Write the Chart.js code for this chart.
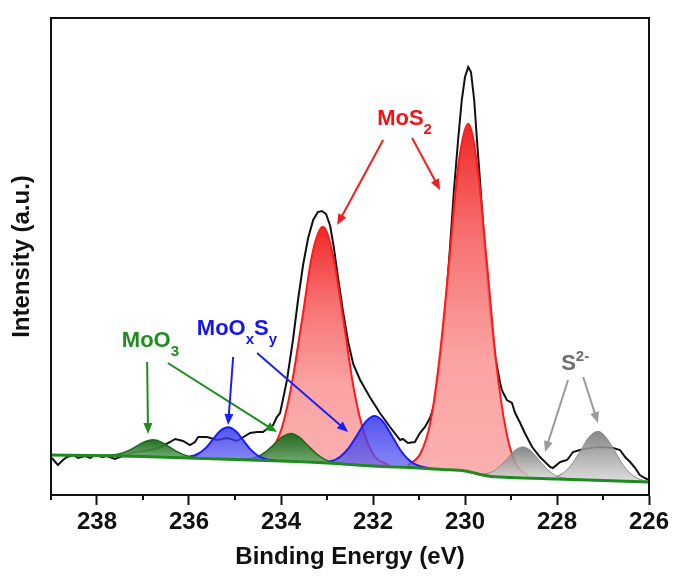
<!DOCTYPE html>
<html>
<head>
<meta charset="utf-8">
<script src="https://cdn.jsdelivr.net/npm/chart.js@4.4.1/dist/chart.umd.min.js"></script>
<style>
    html, body { margin: 0; padding: 0; background: #fff; }
    #wrap { width: 673px; height: 576px; }
</style>
</head>
<body>
<div id="wrap"><canvas id="xpsChart" width="673" height="576"></canvas></div>
<script>
// binding energy in eV, intensity in arbitrary units
const energyTicks = [238, 236, 234, 232, 230, 228, 226];

const rawEnergy = [238.98, 238.85, 238.74, 238.65, 238.52, 238.41, 238.26, 238.15, 238.04, 237.89,
    237.78, 237.61, 237.39, 237.17, 236.96, 236.74, 236.57, 236.41, 236.30, 236.13,
    235.98, 235.87, 235.80, 235.61, 235.39, 235.17, 234.96, 234.78, 234.67, 234.52,
    234.39, 234.28, 234.17, 234.09, 234.02, 233.96, 233.87, 233.74, 233.63, 233.52,
    233.41, 233.30, 233.20, 233.11, 233.02, 232.93, 232.85, 232.76, 232.65, 232.54,
    232.43, 232.28, 232.07, 231.85, 231.63, 231.41, 231.35, 231.24, 231.09, 230.98,
    230.87, 230.76, 230.67, 230.59, 230.50, 230.41, 230.33, 230.24, 230.15, 230.07,
    230.00, 229.93, 229.87, 229.80, 229.74, 229.67, 229.57, 229.46, 229.35, 229.24,
    229.20, 229.09, 228.98, 228.91, 228.80, 228.70, 228.54, 228.37, 228.15, 228.09,
    227.93, 227.78, 227.65, 227.50, 227.28, 227.07, 226.78, 226.63, 226.52, 226.41,
    226.30, 226.20, 226.09, 226.00];
const rawCounts = [37, 30, 35, 38, 40, 37, 39, 37, 40, 38,
    39, 36, 40, 43, 44, 46, 49, 53, 56, 54,
    50, 53, 58, 58, 55, 57, 54, 59, 62, 63,
    63, 67, 70, 78, 82, 95, 115, 155, 195, 230,
    257, 275, 283, 284, 281, 269, 247, 217, 183, 153,
    131, 115, 98, 82, 68, 55, 56, 52, 53, 62,
    68, 77, 90, 115, 150, 195, 245, 305, 355, 395,
    418, 428, 423, 395, 355, 312, 245, 185, 140, 113,
    105, 95, 92, 82, 72, 62, 48, 38, 28, 27,
    33, 35, 43, 45, 47, 48, 47, 45, 38, 33,
    27, 20, 17, 15];

const bgEnergy = [239, 238, 237, 236, 235, 234, 233, 232, 231, 230.5, 230, 229.5, 229, 228, 227, 226];
const bgCounts = [40, 39.5, 38.5, 37, 35.5, 34, 32, 29, 27, 25.5, 24, 19, 17.5, 16, 14.5, 13];

const moo3aEnergy = [237.93, 237.68, 237.50, 237.32, 237.14, 236.96, 236.78, 236.60, 236.42, 236.24, 236.06, 235.88, 235.63];
const moo3aCounts = [39.5, 39.9, 41.3, 44.3, 48.9, 53.4, 55.2, 52.9, 47.9, 42.9, 39.4, 37.5, 36.6];

const moxsaEnergy = [236.21, 235.98, 235.81, 235.64, 235.48, 235.32, 235.15, 234.98, 234.82, 234.66, 234.49, 234.32, 234.09];
const moxsaCounts = [37.5, 38.4, 41.0, 46.9, 55.6, 64.2, 67.7, 63.7, 54.6, 45.4, 39.0, 35.9, 34.3];

const moo3bEnergy = [234.93, 234.68, 234.50, 234.32, 234.14, 233.96, 233.78, 233.60, 233.42, 233.24, 233.06, 232.88, 232.63];
const moo3bCounts = [35.6, 36.2, 38.6, 43.6, 51.2, 58.6, 61.6, 57.9, 49.8, 41.6, 35.9, 32.8, 31.1];

const mos2aEnergy = [234.53, 234.22, 233.99, 233.77, 233.54, 233.32, 233.09, 232.87, 232.64, 232.42, 232.19, 231.97, 231.65];
const mos2aCounts = [36.2, 44.7, 66.0, 110.1, 176.2, 240.9, 268.2, 239.9, 174.0, 106.9, 61.6, 39.3, 29.7];

const moxsbEnergy = [233.18, 232.91, 232.72, 232.53, 232.34, 232.15, 231.96, 231.77, 231.58, 231.39, 231.20, 231.01, 230.74];
const moxsbCounts = [32.7, 33.9, 38.0, 46.8, 60.3, 73.6, 78.9, 72.6, 58.5, 44.0, 34.2, 29.2, 26.5];

const mos2bEnergy = [231.24, 230.96, 230.75, 230.55, 230.34, 230.14, 229.93, 229.73, 229.52, 229.32, 229.11, 228.91, 228.62];
const mos2bCounts = [29.6, 42.2, 73.4, 138.7, 236.1, 331.5, 371.3, 328.4, 230.3, 131.5, 64.9, 32.7, 19.0];

const s2aEnergy = [229.59, 229.42, 229.25, 229.08, 228.91, 228.74, 228.57, 228.40, 228.23, 228.06, 227.89, 227.65];
const s2aCounts = [20.6, 23.0, 28.4, 36.5, 44.8, 48.1, 44.3, 35.4, 26.5, 20.3, 17.2, 15.7];

const s2bEnergy = [228.29, 228.04, 227.85, 227.67, 227.48, 227.30, 227.11, 226.93, 226.74, 226.56, 226.37, 226.19, 226.00];
const s2bCounts = [16.7, 18.3, 22.4, 31.4, 44.9, 58.2, 63.7, 57.6, 43.8, 29.7, 20.2, 15.5, 13.4];

// labels and arrows, placed in data units
const noteLabels = [
    { parts: [['MoS', 0], ['2', 1]], at: [231.91, 370], color: '#f01414' },
    { parts: [['MoO', 0], ['3', 1]], at: [237.46, 148], color: '#1e8c1e' },
    { parts: [['MoO', 0], ['x', 1], ['S', 0], ['y', 1]], at: [235.83, 160], color: '#1414f0' },
    { parts: [['S', 0], ['2-', -1]], at: [227.91, 125], color: '#6e6e6e' }
];
const noteArrows = [
    { from: [231.78, 355], to: [232.78, 270], color: '#f01e1e' },
    { from: [231.15, 357], to: [230.54, 305], color: '#f01e1e' },
    { from: [236.91, 133], to: [236.89, 61], color: '#1e8c1e' },
    { from: [236.46, 132], to: [234.09, 63], color: '#1e8c1e' },
    { from: [235.04, 138], to: [235.15, 70], color: '#1e1ef0' },
    { from: [234.52, 142], to: [232.54, 63], color: '#1e1ef0' },
    { from: [227.76, 115], to: [228.26, 43], color: '#9a9a9a' },
    { from: [227.43, 118], to: [227.11, 72], color: '#9a9a9a' }
];

const FONT = '"Liberation Sans", Arial, sans-serif';

function toPoints(xs, ys){
    let pts = [];
    for(let i = 0; i < xs.length; i++){
        pts.push({x: xs[i], y: ys[i]});
    }
    return pts;
}

// vertical gradient from the top of a peak down to its foot
function shade(stops){
    return function(context){
        const chart = context.chart;
        if(!chart.chartArea || !context.dataset) return stops[0];
        const ys = context.dataset.data.map(p => p.y);
        const yScale = chart.scales.y;
        const g = chart.ctx.createLinearGradient(0, yScale.getPixelForValue(Math.max(...ys)), 0, yScale.getPixelForValue(Math.min(...ys)));
        for(let i = 0; i < stops.length; i++){
            g.addColorStop(i / (stops.length - 1), stops[i]);
        }
        return g;
    };
}

function peakDataset(label, xs, ys, stops, lineColor, lineWidth, order){
    return {
        label: label,
        data: toPoints(xs, ys),
        borderColor: lineColor,
        borderWidth: lineWidth,
        backgroundColor: shade(stops),
        fill: 1,
        pointRadius: 0,
        cubicInterpolationMode: 'monotone',
        order: order
    };
}

const redStops = ['rgba(238,28,28,0.95)', 'rgba(247,100,100,0.9)', 'rgba(250,150,150,0.88)', 'rgba(251,165,165,0.88)'];
const blueStops = ['rgba(45,45,235,0.82)', 'rgba(95,95,242,0.75)'];
const greenStops = ['rgba(22,100,22,0.95)', 'rgba(105,170,105,0.9)'];
const grayStops = ['rgba(118,118,118,0.88)', 'rgba(215,215,215,0.85)'];

function drawArrow(ctx, x1, y1, x2, y2, color){
    const ang = Math.atan2(y2 - y1, x2 - x1);
    const head = 11;
    ctx.strokeStyle = color;
    ctx.fillStyle = color;
    ctx.lineWidth = 2;
    ctx.beginPath();
    ctx.moveTo(x1, y1);
    ctx.lineTo(x2 - Math.cos(ang) * head * 0.8, y2 - Math.sin(ang) * head * 0.8);
    ctx.stroke();
    ctx.beginPath();
    ctx.moveTo(x2, y2);
    ctx.lineTo(x2 - head * Math.cos(ang) + 4.5 * Math.sin(ang), y2 - head * Math.sin(ang) - 4.5 * Math.cos(ang));
    ctx.lineTo(x2 - head * Math.cos(ang) - 4.5 * Math.sin(ang), y2 - head * Math.sin(ang) + 4.5 * Math.cos(ang));
    ctx.closePath();
    ctx.fill();
}

function drawChem(ctx, note, xScale, yScale){
    let px = xScale.getPixelForValue(note.at[0]);
    const py = yScale.getPixelForValue(note.at[1]);
    ctx.fillStyle = note.color;
    ctx.textAlign = 'left';
    ctx.textBaseline = 'alphabetic';
    note.parts.forEach(([t, shift]) => {
        ctx.font = shift ? 'bold 15px ' + FONT : 'bold 22px ' + FONT;
        ctx.fillText(t, px, py + (shift > 0 ? 9 : shift < 0 ? -9 : 0));
        px += ctx.measureText(t).width;
    });
}

const notesPlugin = {
    id: 'notes',
    afterDatasetsDraw(chart){
        const {ctx, scales: {x, y}} = chart;
        ctx.save();
        noteArrows.forEach(a => drawArrow(ctx,
            x.getPixelForValue(a.from[0]), y.getPixelForValue(a.from[1]),
            x.getPixelForValue(a.to[0]), y.getPixelForValue(a.to[1]), a.color));
        noteLabels.forEach(l => drawChem(ctx, l, x, y));
        ctx.restore();
    },
    afterDraw(chart){
        const {ctx, chartArea: area, scales: {x}} = chart;
        ctx.save();
        ctx.strokeStyle = '#111';
        ctx.lineWidth = 2;
        ctx.strokeRect(area.left, area.top, area.right - area.left, area.bottom - area.top);
        // minor ticks halfway between the labelled ones
        energyTicks.forEach(v => {
            const m = v + 1;
            if(m > x.max) return;
            const px = x.getPixelForValue(m);
            ctx.beginPath();
            ctx.moveTo(px, area.bottom);
            ctx.lineTo(px, area.bottom + 5);
            ctx.stroke();
        });
        ctx.restore();
    }
};

Chart.defaults.font.family = FONT;

new Chart(document.getElementById('xpsChart'), {
    type: 'line',
    data: {
        datasets: [
            {
                label: 'Raw',
                data: toPoints(rawEnergy, rawCounts),
                borderColor: '#111',
                borderWidth: 2,
                pointRadius: 0,
                fill: false,
                tension: 0,
                order: 4
            },
            {
                label: 'Background',
                data: toPoints(bgEnergy, bgCounts),
                borderColor: '#1f8a1f',
                borderWidth: 3,
                pointRadius: 0,
                fill: false,
                cubicInterpolationMode: 'monotone',
                order: 0
            },
            peakDataset('MoO3 a', moo3aEnergy, moo3aCounts, greenStops, '#1b6b1b', 1.5, 2),
            peakDataset('MoOxSy a', moxsaEnergy, moxsaCounts, blueStops, '#1a1aff', 2, 2),
            peakDataset('MoO3 b', moo3bEnergy, moo3bCounts, greenStops, '#1b6b1b', 1.5, 2),
            peakDataset('MoOxSy b', moxsbEnergy, moxsbCounts, blueStops, '#1a1aff', 2, 2),
            peakDataset('S2- a', s2aEnergy, s2aCounts, grayStops, '#8a8a8a', 1, 2),
            peakDataset('S2- b', s2bEnergy, s2bCounts, grayStops, '#8a8a8a', 1, 2),
            peakDataset('MoS2 a', mos2aEnergy, mos2aCounts, redStops, '#ff1a1a', 2, 3),
            peakDataset('MoS2 b', mos2bEnergy, mos2bCounts, redStops, '#ff1a1a', 2, 3)
        ]
    },
    options: {
        responsive: false,
        animation: false,
        devicePixelRatio: 1,
        layout: { padding: { left: 4, right: 24, top: 18, bottom: 1 } },
        plugins: {
            legend: { display: false },
            tooltip: { enabled: false }
        },
        scales: {
            x: {
                type: 'linear',
                reverse: true,
                min: 226,
                max: 239,
                afterBuildTicks: (scale) => { scale.ticks = energyTicks.map(v => ({value: v})); },
                ticks: { font: { size: 24, weight: 'bold' }, color: '#111', padding: 3, maxRotation: 0, autoSkip: false },
                grid: { drawOnChartArea: false, drawTicks: true, tickLength: 10, tickWidth: 2, tickColor: '#111' },
                border: { display: true, color: '#111', width: 2 },
                title: { display: true, text: 'Binding Energy (eV)', font: { size: 24, weight: 'bold' }, color: '#111', padding: { top: 2.8, bottom: 3.6 } }
            },
            y: {
                type: 'linear',
                min: 0,
                max: 477,
                ticks: { display: false },
                grid: { display: false, drawTicks: false },
                border: { display: true, color: '#111', width: 2 },
                title: { display: true, text: 'Intensity (a.u.)', font: { size: 24, weight: 'bold' }, color: '#111', padding: { top: 3.6, bottom: 14.6 } }
            }
        }
    },
    plugins: [notesPlugin]
});
</script>
</body>
</html>
